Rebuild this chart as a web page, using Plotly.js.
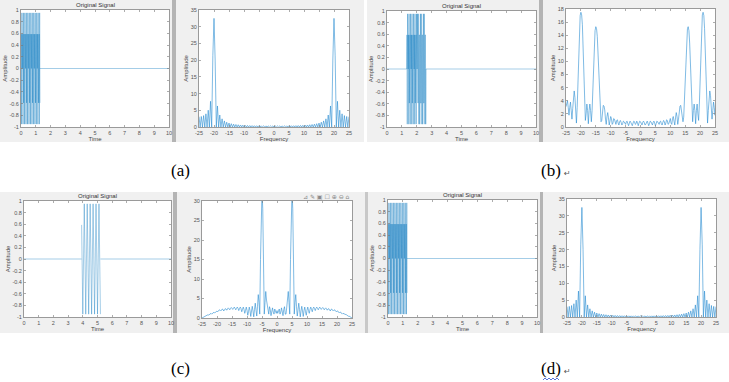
<!DOCTYPE html>
<html><head><meta charset="utf-8">
<script src="https://cdn.plot.ly/plotly-3.0.1.min.js"></script>
<style>html,body{margin:0;padding:0;background:#fff}#chart{width:729px;height:382px}</style>
</head><body><div id="chart"></div>
<script>
// ---------- data ----------
// time signals (sampled every 0.02 s)
const sigA = [0,0.588,-0.951,0.951,-0.588,0,0.588,-0.951,0.951,-0.588,0,0.588,-0.951,0.951,-0.588,0,0.588,-0.951,0.951,-0.588,0,0.588,-0.951,0.951,-0.588,0,0.588,-0.951,0.951,-0.588,0,0.588,-0.951,0.951,-0.588,0,0.588,-0.951,0.951,-0.588,0,0.588,-0.951,0.951,-0.588,0,0.588,-0.951,0.951,-0.588,0,0.588,-0.951,0.951,-0.588,0,0.588,-0.951,0.951,-0.588,0,0.588,-0.951,0.951,-0.588];
const sigAStart = 0, sigAEnd = 1.28;
const sigB = [0,0.588,-0.951,0.951,-0.588,0,0.588,-0.951,0.951,-0.588,0,0.588,-0.951,0.951,-0.588,0,0.588,-0.951,0.951,-0.588,0,0.588,-0.951,0.951,-0.588,0,0.588,-0.951,0.951,-0.588,0,0.588,-0.951,0.951,-0.588,
  0,0.951,-0.588,-0.588,0.951,0,-0.951,0.588,0.588,-0.951,0,0.951,-0.588,-0.588,0.951,0,-0.951,0.588,0.588,-0.951,0,0.951,-0.588,-0.588,0.951,0,-0.951,0.588,0.588,-0.951,0];
const sigBStart = 1.32, sigBEnd = 2.62;
const sigC = [0.588,0,-0.588,-0.951,-0.951,-0.588,0,0.588,0.951,0.951,0.588,0,-0.588,-0.951,-0.951,-0.588,0,0.588,0.951,0.951,0.588,0,-0.588,-0.951,-0.951,-0.588,0,0.588,0.951,0.951,0.588,0,-0.588,-0.951,-0.951,-0.588,0,0.588,0.951,0.951,0.588,0,-0.588,-0.951,-0.951,-0.588,0,0.588,0.951,0.951,0.588,0,-0.588,-0.951,-0.951,-0.588,0,0.588,0.951,0.951,0.588,0,-0.588,-0.951,-0.951];
const sigCStart = 3.92, sigCEnd = 5.20;
const timeSpan = [0, 10];

// spectra
const specA = [3.08,0,3.15,0,3.41,0,3.94,0,5.02,0,7.69,0,21.41,32.5,20.03,0,6.29,0,3.58,0,2.44,0,1.82,0,1.43,0,1.18,0,0.99,0,0.85,0,0.75,0,0.67,0,0.60,0,0.55,0,0.51,0,0.47,0,0.44,0,0.42,0,0.39,0,0.38,0,0.36,0,0.35,0,0.34,0,0.34,0,0.33,0,0.33,0,0.33,
  0,
  0.33,0,0.33,0,0.33,0,0.34,0,0.34,0,0.35,0,0.36,0,0.38,0,0.39,0,0.42,0,0.44,0,0.47,0,0.51,0,0.55,0,0.60,0,0.67,0,0.75,0,0.85,0,0.99,0,1.18,0,1.43,0,1.82,0,2.44,0,3.58,0,6.29,0,20.03,32.5,21.41,0,7.69,0,5.02,0,3.94,0,3.41,0,3.15,0,3.08];
const specAStep = 0.3846;
const specB = [3.1,3.6,4.0,3.0,1.8,3.0,3.8,2.5,1.2,2.8,4.8,5.5,4.5,2.5,0.6,3.0,7.0,11.5,15.0,17.0,17.5,17.1,15.6,12.5,8.0,3.5,1.0,2.0,3.5,2.5,0.5,2.5,3.5,2.5,0.8,2.5,6.0,9.8,12.8,14.7,15.3,15.0,13.8,11.3,8.0,4.5,1.5,0.8,1.0,2.2,3.3,3.2,2.6,1.2,0.4,1.6,2.2,1.4,0.3,0.9,1.6,1.3,0.4,0.6,1.3,1.2,0.5,0.4,1.0,1.1,0.6,0.3,0.8,1.0,0.7,0.3,0.5,0.9,0.8,0.4,0.4,0.8,0.9,0.5,0.2,0.6,0.9,0.7,0.3,0.2,0.6,0.9,0.8,0.4,0.5,0.9,0.6,0.2,0.6,0.9,0.8,0.4,0.3,0.7,
  0.9,
  0.7,0.3,0.4,0.8,0.9,0.6,0.2,0.5,0.9,0.8,0.4,0.3,0.7,0.9,0.6,0.2,0.5,0.9,0.8,0.4,0.4,0.8,0.9,0.5,0.3,0.7,1.0,0.8,0.3,0.6,1.1,1.0,0.4,0.5,1.2,1.3,0.6,0.4,1.3,1.6,0.9,0.3,1.4,2.2,1.6,0.4,1.2,2.6,3.2,3.3,2.2,1.0,0.8,1.5,4.5,8.0,11.3,13.8,15.0,15.3,14.7,12.8,9.8,6.0,2.5,0.8,2.5,3.5,2.5,0.5,2.5,3.5,2.0,1.0,3.5,8.0,12.5,15.6,17.1,17.5,17.0,15.0,11.5,7.0,3.0,0.6,2.5,4.5,5.5,4.8,2.8,1.2,2.5,3.8,3.0,1.8,3.0,4.0,3.6,3.1];
const specC = [0,0.12,0.25,0.4,0.5,0.45,0.6,0.8,0.85,0.75,0.9,1.1,1.2,1.0,1.2,1.5,1.5,1.3,1.5,1.8,1.8,1.6,1.8,2.1,2.0,1.8,2.0,2.3,2.2,1.8,2.1,2.4,2.3,2.0,2.3,2.6,2.4,2.1,2.4,2.7,2.5,2.2,2.5,2.8,2.5,2.1,2.5,2.8,2.5,1.9,2.4,2.8,2.4,1.6,2.2,2.8,2.2,1.2,1.9,2.8,2.0,0.7,1.6,2.8,1.9,0.4,1.8,3.0,1.8,0.3,2.2,3.8,2.0,0.5,3.0,6.0,4.0,1.0,15.0,28.0,32.5,28.0,15.0,1.0,4.0,6.8,4.6,2.8,1.0,1.0,2.9,2.2,0.6,1.4,2.6,1.5,1.0,2.3,1.8,1.2,
  1.9,
  1.2,1.8,2.3,1.0,1.5,2.6,1.4,0.6,2.2,2.9,1.0,1.0,2.8,4.6,6.8,4.0,1.0,15.0,28.0,32.5,28.0,15.0,1.0,4.0,6.0,3.0,0.5,2.0,3.8,2.2,0.3,1.8,3.0,1.8,0.4,1.9,2.8,1.6,0.7,2.0,2.8,1.9,1.2,2.2,2.8,2.2,1.6,2.4,2.8,2.4,1.9,2.5,2.8,2.5,2.1,2.5,2.8,2.5,2.2,2.5,2.7,2.4,2.1,2.4,2.6,2.3,2.0,2.3,2.4,2.1,1.8,2.2,2.3,2.0,1.8,2.0,2.1,1.8,1.6,1.8,1.8,1.5,1.3,1.5,1.5,1.2,1.0,1.2,1.1,0.9,0.75,0.85,0.8,0.6,0.45,0.5,0.4,0.25,0.12,0];
const specBCStep = 0.25;
const freqStart = -25;

// ticks
const timeTicks = [0,1,2,3,4,5,6,7,8,9,10];
const ampTicks = [-1,-0.8,-0.6,-0.4,-0.2,0,0.2,0.4,0.6,0.8,1];
const ampTickText = ['-1','-0.8','-0.6','-0.4','-0.2','0','0.2','0.4','0.6','0.8','1'];
const freqTicks = [-25,-20,-15,-10,-5,0,5,10,15,20,25];
const freqTickText = ['-25','-20','-15','-10','-5','0','5','10','15','20','25'];
const specTicks35 = [0,5,10,15,20,25,30,35];
const specTicks18 = [0,2,4,6,8,10,12,14,16,18];
const specTicks30 = [0,5,10,15,20,25,30];

// ---------- layout helpers (pixel geometry) ----------
const W = 729, H = 382;
const fx = p => p / W, fy = p => 1 - p / H;
const blue = 'rgba(0,114,189,0.6)';
const tickFont = {family:'Liberation Sans, Arial', size:5.5, color:'#555'};
const labFont = {family:'Liberation Sans, Arial', size:6, color:'#444'};

function axis(x0, x1, anchor, range, tv, tt, title, isX) {
  return {
    domain: isX ? [fx(x0), fx(x1)] : [fy(x1), fy(x0)],
    anchor: anchor, range: range, autorange: false,
    tickmode: 'array', tickvals: tv, ticktext: tt,
    ticks: 'inside', ticklen: 2, tickwidth: 0.6, tickcolor: '#777',
    showline: true, linecolor: '#9a9a9a', linewidth: 1, mirror: 'allticks',
    showgrid: false, zeroline: false, automargin: false,
    tickfont: tickFont, fixedrange: true,
    title: {text: title, font: labFont, standoff: 1}
  };
}

const layout = {
  width: W, height: H, margin: {l:0, r:0, t:0, b:0, pad:0},
  paper_bgcolor: '#ffffff', plot_bgcolor: '#ffffff', showlegend: false,
  shapes: [], annotations: []
};

// axes: [xl, xr, yt, yb]
const boxes = {
  1: [21, 169, 10, 127],
  2: [199, 349, 10, 127],
  3: [387, 536, 11, 127],
  4: [566, 715, 9, 127],
  5: [24, 171, 201, 317],
  6: [202, 352, 201, 318],
  7: [388, 537, 200, 317],
  8: [567, 716, 199, 317]
};
const ranges = {
  1: [timeSpan, [-1,1], timeTicks, timeTicks.map(String), ampTicks, ampTickText, 'Time'],
  2: [[-25,25], [0,35], freqTicks, freqTickText, specTicks35, specTicks35.map(String), 'Frequency'],
  3: [timeSpan, [-1,1], timeTicks, timeTicks.map(String), ampTicks, ampTickText, 'Time'],
  4: [[-25,25], [0,18], freqTicks, freqTickText, specTicks18, specTicks18.map(String), 'Frequency'],
  5: [timeSpan, [-1,1], timeTicks, timeTicks.map(String), ampTicks, ampTickText, 'Time'],
  6: [[-25,25], [0,30], freqTicks, freqTickText, specTicks30, specTicks30.map(String), 'Frequency'],
  7: [timeSpan, [-1,1], timeTicks, timeTicks.map(String), ampTicks, ampTickText, 'Time'],
  8: [[-25,25], [0,35], freqTicks, freqTickText, specTicks35, specTicks35.map(String), 'Frequency']
};

// grey window backgrounds
const greys = [
  [0,172,0,142,'#f0f0f0'],[172,176,0,142,'#b4b4b4'],[176,364,0,142,'#f0f0f0'],
  [367,539,0,142,'#f0f0f0'],[539,543,0,142,'#b4b4b4'],[543,729,0,142,'#f0f0f0'],
  [0,173,192,333,'#f0f0f0'],[173,177,192,333,'#b4b4b4'],[177,365,192,333,'#f0f0f0'],
  [365,368,192,333,'#c8c8c8'],[368,540,192,333,'#f0f0f0'],[540,543,192,333,'#b4b4b4'],[543,729,192,333,'#f0f0f0']
];
greys.forEach(g => layout.shapes.push({type:'rect', xref:'paper', yref:'paper', x0:fx(g[0]), x1:fx(g[1]), y0:fy(g[3]), y1:fy(g[2]), fillcolor:g[4], line:{width:0}, layer:'below'}));

for (let k = 1; k <= 8; k++) {
  const b = boxes[k], r = ranges[k];
  const xs = k === 1 ? '' : k, ys = k === 1 ? '' : k;
  layout['xaxis' + xs] = axis(b[0], b[1], 'y' + ys, r[0], r[2], r[3], r[6], true);
  layout['yaxis' + ys] = axis(b[2], b[3], 'x' + xs, r[1], r[4], r[5], 'Amplitude', false);
  layout.shapes.push({type:'rect', xref:'paper', yref:'paper', x0:fx(b[0]), x1:fx(b[1]), y0:fy(b[3]), y1:fy(b[2]), fillcolor:'#ffffff', line:{width:0}, layer:'below'});
}

// subplot titles
[1,3,5,7].forEach(k => {
  const b = boxes[k];
  layout.annotations.push({xref:'paper', yref:'paper', x:fx((b[0]+b[1])/2), y:fy(b[2]-5), yanchor:'middle', xanchor:'center', text:'Original Signal', showarrow:false, font:{family:'Liberation Sans, Arial', size:6, color:'#333'}});
});
// figure captions
const caps = [['(a)',180,170,false],['(b)',551,170,true],['(c)',180,368,false],['(d)',551,368,true]];
caps.forEach(c => {
  layout.annotations.push({xref:'paper', yref:'paper', x:fx(c[1]), y:fy(c[2]), xanchor:'center', yanchor:'middle', text:c[0], showarrow:false, font:{family:'Liberation Serif, Times New Roman', size:17, color:'#000'}});
  if (c[3]) layout.annotations.push({xref:'paper', yref:'paper', x:fx(c[1]+11), y:fy(c[2]+3), xanchor:'left', yanchor:'middle', text:'↵', showarrow:false, font:{family:'DejaVu Sans', size:8, color:'#555'}});
});
// spell-check squiggle under (d)
layout.shapes.push({type:'path', xref:'paper', yref:'paper', path:'M '+fx(543)+','+fy(380)+' L '+fx(545)+','+fy(378)+' L '+fx(547)+','+fy(380)+' L '+fx(549)+','+fy(378)+' L '+fx(551)+','+fy(380)+' L '+fx(553)+','+fy(378)+' L '+fx(555)+','+fy(380)+' L '+fx(557)+','+fy(378)+' L '+fx(559)+','+fy(380), line:{color:'#3050d0', width:0.8}});
// figure toolbar in (c) spectrum
layout.annotations.push({xref:'paper', yref:'paper', x:fx(352), y:fy(197), xanchor:'right', yanchor:'middle', text:'⊿ ✎ ▣ ☐ ⊕ ⊖ ⌂', showarrow:false, font:{family:'DejaVu Sans', size:6, color:'#888'}});

// ---------- traces ----------
const lineT = {color: blue, width: 0.6};
const lineS = {color: 'rgba(40,140,210,0.85)', width: 0.7};
const traces = [];
function tsig(sig, t0, t1, axn) {
  const xa = axn === 1 ? 'x' : 'x' + axn, ya = axn === 1 ? 'y' : 'y' + axn;
  traces.push({type:'scatter', mode:'lines', y: sig, x0: t0, dx: 0.02, xaxis: xa, yaxis: ya, line: lineT, hoverinfo:'skip'});
  if (t0 > timeSpan[0]) traces.push({type:'scatter', mode:'lines', x:[timeSpan[0], t0], y:[0,0], xaxis: xa, yaxis: ya, line: lineT, hoverinfo:'skip'});
  traces.push({type:'scatter', mode:'lines', x:[t1, timeSpan[1]], y:[0,0], xaxis: xa, yaxis: ya, line: lineT, hoverinfo:'skip'});
}
function spec(s, step, axn) {
  traces.push({type:'scatter', mode:'lines', y: s, x0: freqStart, dx: step, xaxis: 'x' + axn, yaxis: 'y' + axn, line: lineS, hoverinfo:'skip'});
}
tsig(sigA, sigAStart, sigAEnd, 1);
spec(specA, specAStep, 2);
tsig(sigB, sigBStart, sigBEnd, 3);
spec(specB, specBCStep, 4);
tsig(sigC, sigCStart, sigCEnd, 5);
spec(specC, specBCStep, 6);
tsig(sigA, sigAStart, sigAEnd, 7);
spec(specA, specAStep, 8);

Plotly.newPlot('chart', traces, layout, {staticPlot: true, displayModeBar: false});
</script>
</body></html>
